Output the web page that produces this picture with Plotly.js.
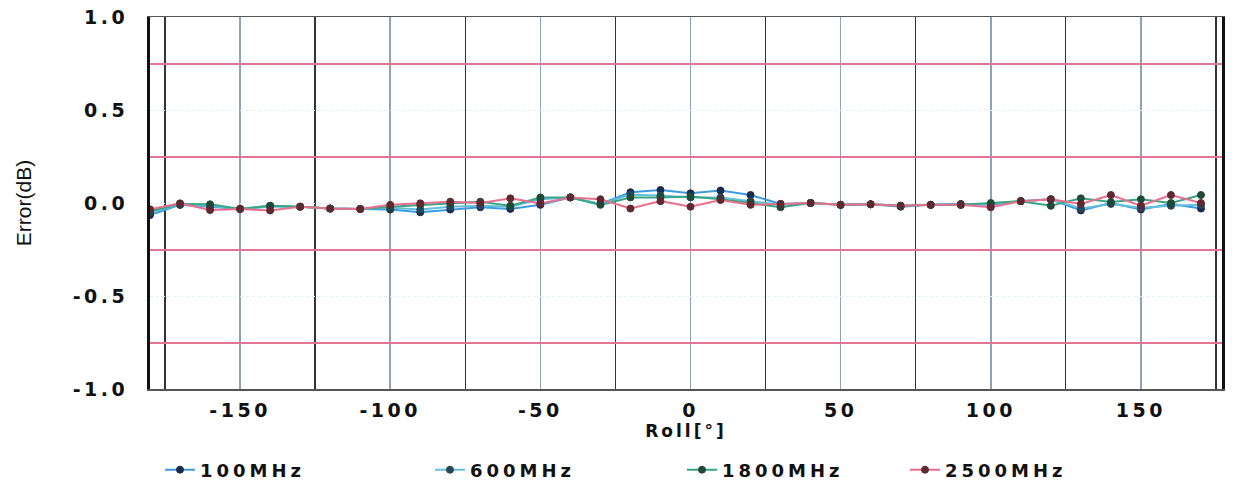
<!DOCTYPE html>
<html>
<head>
<meta charset="utf-8">
<script src="https://cdn.plot.ly/plotly-3.0.1.min.js"></script>
<style>
  html, body { margin: 0; padding: 0; background: #fff; }
  #chart { width: 1234px; height: 486px; }
  .infolayer g[class*="legend"] text { letter-spacing: 4px; }
  .xtick text, .ytick text { letter-spacing: 3.5px; }
  text.xtitle { letter-spacing: 3px; }
</style>
</head>
<body>
<div id="chart"></div>
<script>
const roll = [-180,-170,-160,-150,-140,-130,-120,-110,-100,-90,-80,-70,-60,-50,-40,-30,-20,-10,0,10,20,30,40,50,60,70,80,90,100,110,120,130,140,150,160,170];

const err100 = [-0.065,-0.010,-0.020,-0.032,-0.015,-0.020,-0.030,-0.032,-0.035,-0.050,-0.035,-0.023,-0.032,-0.010,0.030,-0.005,0.058,0.070,0.052,0.067,0.043,-0.005,0.000,-0.010,-0.007,-0.020,-0.010,-0.005,-0.010,0.010,0.020,-0.040,0.000,-0.035,-0.005,-0.030];
const err600 = [-0.050,-0.010,-0.015,-0.032,-0.020,-0.020,-0.030,-0.032,-0.025,-0.035,-0.020,-0.015,-0.020,0.020,0.030,-0.005,0.045,0.040,0.030,0.030,0.010,-0.010,0.000,-0.010,-0.007,-0.015,-0.010,-0.010,-0.005,0.010,0.020,-0.030,-0.005,-0.025,-0.015,-0.010];
const err1800 = [-0.045,-0.005,-0.007,-0.032,-0.015,-0.020,-0.030,-0.032,-0.020,-0.010,-0.002,0.007,-0.015,0.030,0.030,-0.010,0.030,0.030,0.035,0.020,0.000,-0.023,0.000,-0.010,-0.007,-0.015,-0.010,-0.010,0.000,0.010,-0.015,0.025,0.005,0.020,0.000,0.043];
const err2500 = [-0.034,-0.002,-0.038,-0.032,-0.040,-0.020,-0.030,-0.032,-0.010,-0.002,0.007,0.000,0.025,-0.002,0.030,0.020,-0.030,0.010,-0.020,0.016,-0.010,-0.005,0.000,-0.010,-0.007,-0.015,-0.010,-0.010,-0.023,0.010,0.020,-0.005,0.043,-0.015,0.043,0.000];

const xTickVals = [-150,-100,-50,0,50,100,150];
const xTickText = ['-150','-100','-50','0','50','100','150'];
const xMinorVals = [-175,-125,-75,-25,25,75,125,175];
const yTickVals = [-1,-0.5,0,0.5,1];
const yTickText = ['-1.0','-0.5','0.0','0.5','1.0'];
const yPinkVals = [-0.75,-0.25,0.25,0.75];

const seriesNames = ['100MHz','600MHz','1800MHz','2500MHz'];
const seriesData = [err100, err600, err1800, err2500];
const lineColors = ['#3d9be3','#62c0dc','#3aa585','#ea6f8c'];
const markerColors = ['#1b2b4d','#27475a','#1f4a37','#5c2a30'];

const legendX = [160, 430, 682, 905];

const traces = seriesNames.map((name, i) => ({
  type: 'scatter',
  mode: 'lines+markers',
  name: name,
  x: roll,
  y: seriesData[i],
  line: { color: lineColors[i], width: 2 },
  marker: { color: markerColors[i], size: 7, line: { color: markerColors[i], width: 1 } },
  legend: i === 0 ? 'legend' : 'legend' + (i + 1)
}));
// empty helper trace so the overlaying grid axis is drawn
traces.unshift({ type: 'scatter', mode: 'lines', x: [], y: [], yaxis: 'y2', showlegend: false, hoverinfo: 'skip' });

const plotL = 150, plotR = 12, plotW = 1234 - plotL - plotR;
const plotT = 17, plotB = 97, plotH = 486 - plotT - plotB;
const legendFont = { family: 'DejaVu Sans', size: 18, color: '#111', weight: 'bold' };
function mkLegend(px) {
  return {
    x: (px - plotL) / plotW, xanchor: 'left',
    y: -(470 - (plotT + plotH)) / plotH, yanchor: 'middle',
    orientation: 'h', font: legendFont, bgcolor: 'rgba(0,0,0,0)',
    itemwidth: 30, borderwidth: 0,
    entrywidth: 200, entrywidthmode: 'pixels'
  };
}

const tickFont = { family: 'DejaVu Sans', size: 19, color: '#111', weight: 'bold' };

const layout = {
  width: 1234, height: 486,
  margin: { l: plotL, r: plotR, t: plotT, b: plotB, autoexpand: false },
  paper_bgcolor: '#fff', plot_bgcolor: '#fff',
  showlegend: true,
  legend: mkLegend(legendX[0]),
  legend2: mkLegend(legendX[1]),
  legend3: mkLegend(legendX[2]),
  legend4: mkLegend(legendX[3]),
  xaxis: {
    range: [-180, 177],
    tickmode: 'array', tickvals: xTickVals, ticktext: xTickText,
    ticks: '', ticklabelstandoff: 4,
    tickfont: tickFont,
    showgrid: true, gridcolor: '#8ea3b3', gridwidth: 1.5,
    minor: { tickmode: 'array', tickvals: xMinorVals, showgrid: true, gridcolor: '#333', gridwidth: 1.3, griddash: 'solid', ticks: '' },
    zeroline: false,
    showline: true, linecolor: '#555', linewidth: 1.5, mirror: true,
    automargin: false,
    title: { text: 'Roll[°]', font: { family: 'DejaVu Sans', size: 17, color: '#111', weight: 'bold' }, standoff: 3 }
  },
  yaxis: {
    range: [-1, 1],
    tickmode: 'array', tickvals: yTickVals, ticktext: yTickText,
    ticks: '', ticklabelstandoff: 15,
    tickfont: tickFont,
    showgrid: true, gridcolor: '#e4f1f3', gridwidth: 1, griddash: 'dot',
    zeroline: false,
    showline: true, linecolor: '#111', linewidth: 3, mirror: true,
    automargin: false,
    title: { text: 'Error(dB)', font: { family: 'Liberation Sans Narrow, Liberation Sans, sans-serif', size: 21, color: '#111' }, standoff: 36 }
  },
  yaxis2: {
    overlaying: 'y', side: 'left',
    range: [-1, 1],
    tickmode: 'array', tickvals: yPinkVals,
    showticklabels: false, ticks: '',
    showgrid: true, gridcolor: '#e27594', gridwidth: 2,
    zeroline: false, showline: false, automargin: false
  }
};

Plotly.newPlot('chart', traces, layout, { displayModeBar: false, staticPlot: true });
</script>
</body>
</html>
